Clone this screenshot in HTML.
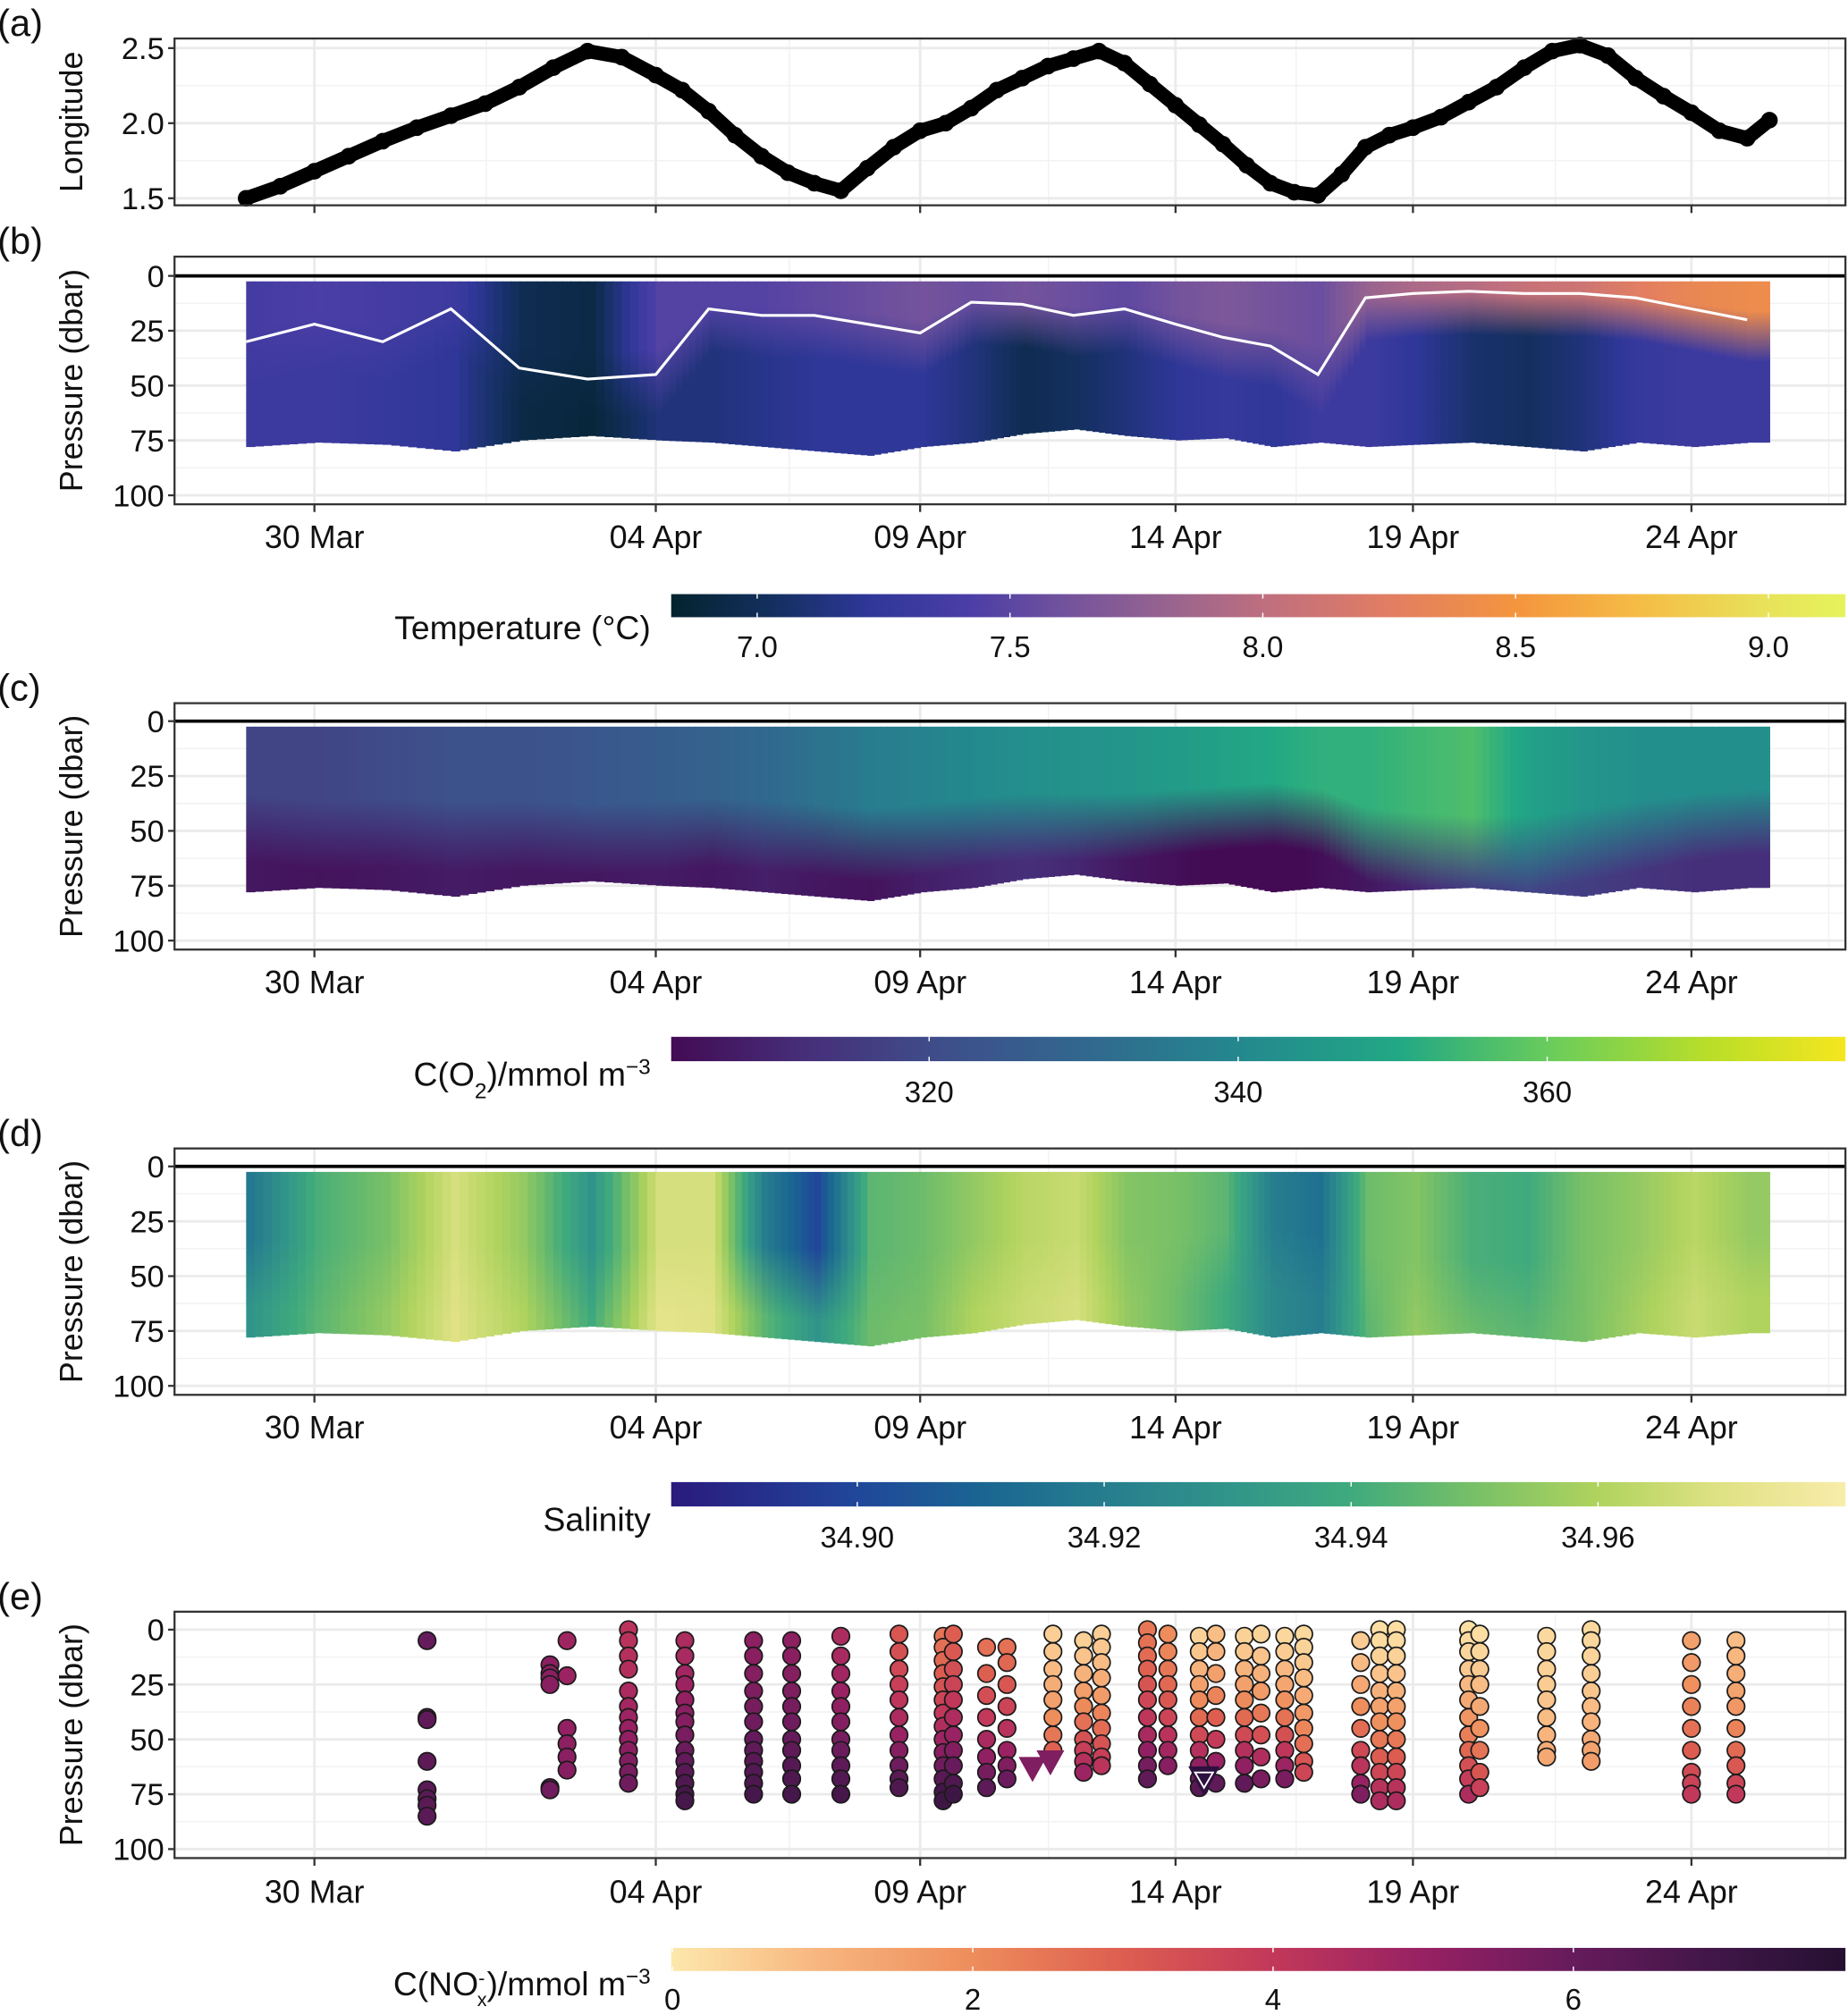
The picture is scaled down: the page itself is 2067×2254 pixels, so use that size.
<!DOCTYPE html>
<html><head><meta charset="utf-8"><title>Glider section plots</title>
<style>
html,body{margin:0;padding:0;background:#fff;}
svg{display:block;font-family:"Liberation Sans",Arial,sans-serif;}
</style></head>
<body>
<svg id="fig" xmlns="http://www.w3.org/2000/svg" width="2067" height="2254" viewBox="0 0 1440 1570.3" preserveAspectRatio="none"></svg>
<script>
// ---------- data ----------
const tickDays = [0, 5, 10, 15, 20, 25];
const tickLabels = ["30 Mar", "04 Apr", "09 Apr", "14 Apr", "19 Apr", "24 Apr"];
const lonDays = [-1,-0.5,0,0.5,1,1.5,2,2.5,3,3.5,4,4.5,5,5.5,6,6.5,7,7.5,8,8.5,9,9.5,10,10.5,11,11.5,12,12.5,13,13.5,14,14.5,15,15.5,16,16.5,17,17.5,18,18.5,19,19.5,20,20.5,21,21.5,22,22.5,23,23.5,24,24.5,25,25.5,26,26.4];
const lonVals = [1.50,1.58,1.68,1.78,1.88,1.97,2.05,2.13,2.24,2.37,2.48,2.44,2.32,2.22,2.08,1.92,1.78,1.67,1.6,1.55,1.7,1.84,1.95,2.0,2.1,2.22,2.3,2.38,2.43,2.48,2.4,2.26,2.12,1.99,1.86,1.72,1.6,1.54,1.52,1.66,1.84,1.92,1.97,2.04,2.14,2.24,2.37,2.48,2.52,2.45,2.3,2.18,2.07,1.95,1.9,2.02];
const colDays = [-1,0,1,2,3,4,5,6,7,8,9,10,11,12,13,14,15,16,17,18,19,20,21,22,23,24,25,26];
const tempTop = [7.35,7.4,7.35,7.3,6.95,6.9,7.45,7.45,7.45,7.5,7.55,7.6,7.55,7.6,7.55,7.5,7.6,7.65,7.6,7.55,7.8,7.9,7.95,8.05,8.1,8.25,8.35,8.4];
const tempDeep = [7.3,7.3,7.25,7.2,6.9,6.85,7.1,7.1,7.15,7.2,7.2,7.2,7.1,6.95,7.0,7.1,7.2,7.25,7.2,7.3,7.3,7.2,7.05,7.0,7.1,7.25,7.3,7.3];
const mld = [30,22,30,15,42,47,45,15,18,18,22,26,12,13,18,15,22,28,32,45,10,8,7,8,8,10,15,20];
const bottomP = [78,76,77,80,75,73,75,76,78,80,82,78,76,72,70,73,75,74,78,76,78,77,76,78,80,76,78,76];
const o2Top = [318,318,320,322,322,324,326,328,330,333,336,338,340,342,343,344,346,348,350,352,352,354,356,348,344,342,342,342];
const o2Deep = [306,305,306,307,306,306,307,306,308,306,305,308,310,312,310,306,304,302,301,304,306,310,316,318,316,314,312,312];
const o2Cline = [45,50,48,50,50,52,50,48,50,52,55,52,48,45,45,45,42,40,38,42,55,58,60,60,55,50,45,42];
const salTop = [34.918,34.942,34.95,34.968,34.955,34.93,34.968,34.968,34.92,34.9,34.945,34.948,34.955,34.962,34.965,34.952,34.95,34.945,34.92,34.915,34.948,34.952,34.942,34.94,34.95,34.955,34.962,34.955];
const salDeep = [34.93,34.945,34.955,34.97,34.96,34.94,34.972,34.97,34.945,34.93,34.948,34.95,34.96,34.965,34.968,34.955,34.948,34.94,34.925,34.92,34.945,34.955,34.948,34.945,34.95,34.958,34.965,34.96];
// NOx profiles
const profDay = [1.65,3.45,3.7,4.6,5.55,6.85,7.57,8.5,9.6,10.45,10.65,11.3,11.7,12.6,13.2,13.55,14.45,14.85,15.5,15.85,16.45,16.8,17.3,17.7,18.9,19.3,19.65,21.0,21.2,22.4,23.2,25.0,25.8];
const profP = [[5,40,41,60,73,77,80,85],[16,20,22,25,72,73],[5,21,45,52,58,64],[0,5,12,18,28,35,40,45,50,55,60,65,70],[5,12,20,25,32,38,42,48,55,60,65,70,75,78],[5,12,20,28,35,42,50,55,60,65,70,75],[5,12,20,28,35,42,50,55,62,68,75],[3,12,20,28,35,42,50,55,62,68,75],[2,10,18,25,32,40,48,55,62,68,72],[3,8,14,20,26,32,38,44,50,56,62,68,74,78],[2,10,18,25,32,40,48,55,62,70,75],[8,20,30,40,50,58,65,72],[8,15,25,35,45,55,62,68],[2,10,18,25,32,40,48,55],[5,12,20,28,35,42,50,55,60,65],[2,8,15,22,30,38,45,52,58,62],[0,6,12,18,25,32,40,48,55,62,68],[2,10,18,25,32,40,48,55,62],[3,10,18,25,32,40,48,55,62,68,72],[2,10,20,30,40,50,60,70],[3,10,18,25,32,40,48,55,62,70],[2,12,20,28,38,48,58,68],[3,10,18,25,32,40,48,55,62,68],[2,8,15,22,30,38,45,52,60,65],[5,15,25,35,45,55,62,70,75],[0,5,12,20,28,35,42,50,58,65,72,78],[0,5,12,20,28,35,42,50,58,65,72,78],[0,5,10,18,25,32,40,48,55,62,68,75],[2,10,18,25,35,45,55,65,72],[3,10,18,25,32,40,48,55,58],[0,5,12,20,28,35,42,50,55,60],[5,15,25,35,45,55,65,70,75],[5,12,20,28,35,45,55,62,70,75]];
const profNTop = [6,5.2,4.8,4.2,4.5,5.2,5.2,4.5,3.2,2.5,3,2.5,2.5,0.5,0.4,0.5,2.5,2,0.4,0.8,0.4,0.4,0.3,0.3,0.5,0.2,0.2,0.2,0.2,0.3,0.3,1.5,0.8];
const profNBot = [6.3,5.8,5.5,6,6.8,6.8,6.8,6.8,6.8,7,7,6.5,6.5,4.5,6,5.5,6.8,6.5,6.8,6.8,6.8,6.5,6.5,4.5,5.5,4.5,4.5,4.5,4,1.8,2.2,4,4];
const triDay = [12.2,12.55];
const triP = [63,60];
const triN = [5.5,5.5];
const openTriDay = [15.6];
const openTriP = [68];

// ---------- helpers ----------
const NS = "http://www.w3.org/2000/svg";
const svg = document.getElementById("fig");
function mk(tag, attrs, parent) {
  const e = document.createElementNS(NS, tag);
  for (const k in attrs) e.setAttribute(k, attrs[k]);
  (parent || svg).appendChild(e);
  return e;
}
const tickX = [245, 511, 717, 916, 1101, 1318];
function dx(d) {
  let i = 0;
  if (d <= tickDays[0]) i = 0;
  else if (d >= tickDays[4]) i = 4;
  else { while (d > tickDays[i + 1]) i++; }
  return tickX[i] + (d - tickDays[i]) * (tickX[i + 1] - tickX[i]) / (tickDays[i + 1] - tickDays[i]);
}
function hex2rgb(h) { return [parseInt(h.substr(1,2),16),parseInt(h.substr(3,2),16),parseInt(h.substr(5,2),16)]; }
function colorScale(stops) {
  return function (v) {
    if (v <= stops[0][0]) return stops[0][1];
    if (v >= stops[stops.length-1][0]) return stops[stops.length-1][1];
    let i = 0; while (v > stops[i+1][0]) i++;
    const t = (v - stops[i][0]) / (stops[i+1][0] - stops[i][0]);
    const a = hex2rgb(stops[i][1]), b = hex2rgb(stops[i+1][1]);
    return "rgb(" + a.map((c, k) => Math.round(c + (b[k]-c)*t)).join(",") + ")";
  };
}
const tempStops = [[6.8,"#04232e"],[7.0,"#132f5e"],[7.2,"#2f3798"],[7.4,"#4b3ea6"],[7.6,"#74539c"],[7.8,"#98648f"],[8.0,"#c06f7e"],[8.25,"#e27e62"],[8.5,"#f4953e"],[8.75,"#f5bd45"],[9.0,"#e8e25a"],[9.16,"#e6f35c"]];
const o2Stops = [[303,"#430b54"],[312,"#462f7a"],[320,"#3f4c8a"],[330,"#31688e"],[340,"#23898e"],[350,"#22a884"],[360,"#6ccd5a"],[370,"#bade28"],[378.6,"#f5e61f"]];
const salStops = [[34.885,"#2a1a7e"],[34.9,"#20479a"],[34.91,"#1a6592"],[34.92,"#267d8e"],[34.93,"#31948a"],[34.94,"#3faa7d"],[34.95,"#78c067"],[34.96,"#b0d35e"],[34.97,"#e0e285"],[34.98,"#f8ecaa"]];
const noxStops = [[0,"#fde8ac"],[1,"#f7b57e"],[2,"#ee8d5c"],[3,"#dd5e50"],[4,"#c2385a"],[5,"#972163"],[6,"#661b5c"],[7,"#3e1646"],[7.81,"#251031"]];
const tempC = colorScale(tempStops), o2C = colorScale(o2Stops), salC = colorScale(salStops), noxC = colorScale(noxStops);

const X0 = 136, X1 = 1438;
const minorX = [379, 615, 817, 1010, 1212, 1425];
let gid = 0;

function panelFrame(name, letter, top, bot, yTicks, yTickLabels, yMinor, yfun, ytitle, showX, xLabelY) {
  const g = mk("g", {});
  
  
  const bg = mk("rect", {x: X0, y: top, width: X1 - X0, height: bot - top, fill: "#fff"}, g);
  
  
  yMinor.forEach(v => {
    const l = mk("line", {x1: X0, x2: X1, y1: yfun(v), y2: yfun(v), stroke: "#f2f2f2", "stroke-width": 1}, g);
    
    
  });
  minorX.forEach(x => {
    const l = mk("line", {x1: x, x2: x, y1: top, y2: bot, stroke: "#f2f2f2", "stroke-width": 1}, g);
    
    
  });
  yTicks.forEach(v => {
    const l = mk("line", {x1: X0, x2: X1, y1: yfun(v), y2: yfun(v), stroke: "#ebebeb", "stroke-width": 2}, g);
    
    
  });
  tickDays.forEach(d => {
    const l = mk("line", {x1: dx(d), x2: dx(d), y1: top, y2: bot, stroke: "#ebebeb", "stroke-width": 2}, g);
    
    
  });
  const dataG = mk("g", {}, g);
  
  
  const over = mk("g", {}, g);
  
  
  const border = mk("rect", {x: X0, y: top, width: X1 - X0, height: bot - top, fill: "none", stroke: "#333", "stroke-width": 1.6}, over);
  
  
  yTicks.forEach((v, i) => {
    const t = mk("line", {x1: X0 - 5, x2: X0, y1: yfun(v), y2: yfun(v), stroke: "#333", "stroke-width": 1.6}, over);
    
    
    const tx = mk("text", {x: X0 - 8, y: yfun(v) + 8.5, "text-anchor": "end", "font-size": 24, fill: "#111"}, over);
    tx.textContent = yTickLabels[i];
    
    
  });
  tickDays.forEach((d, i) => {
    const t = mk("line", {x1: dx(d), x2: dx(d), y1: bot, y2: bot + 6, stroke: "#333", "stroke-width": 1.6}, over);
    
    
    if (showX) {
      const tx = mk("text", {x: dx(d), y: xLabelY, "text-anchor": "middle", "font-size": 25, fill: "#111"}, over);
      tx.textContent = tickLabels[i];
      
      
    }
  });
  const cy = (top + bot) / 2;
  const yt = mk("text", {x: 0, y: 0, transform: "translate(64," + cy + ") rotate(-90)", "text-anchor": "middle", "font-size": 25, fill: "#111"}, over);
  yt.textContent = ytitle;
  
  
  const lt = mk("text", {x: -2, y: top - 2, "font-size": 29, fill: "#111"}, over);
  lt.textContent = letter;
  
  
  return {dataG, over};
}

function colorbar(name, title, titleY, y0, y1, stops, ticks, tickPos, labelY, vmin, vmax) {
  const g = mk("g", {});
  
  
  const id = "cb" + (gid++);
  const defs = mk("defs", {}, g);
  const lg = mk("linearGradient", {id: id, x1: 0, x2: 1, y1: 0, y2: 0}, defs);
  stops.forEach(s => mk("stop", {offset: ((s[0] - vmin) / (vmax - vmin)).toFixed(4), "stop-color": s[1]}, lg));
  const r = mk("rect", {x: 523, y: y0, width: 1438 - 523, height: y1 - y0, fill: "url(#" + id + ")"}, g);
  
  
  ticks.forEach((t, i) => {
    const x = tickPos(t);
    const l1 = mk("line", {x1: x, x2: x, y1: y0, y2: y0 + 3.5, stroke: "#fff", "stroke-width": 1}, g);
    
    
    const l2 = mk("line", {x1: x, x2: x, y1: y1 - 3.5, y2: y1, stroke: "#fff", "stroke-width": 1}, g);
    
    
    const tx = mk("text", {x: x, y: labelY, "text-anchor": "middle", "font-size": 23, fill: "#111"}, g);
    tx.textContent = t;
    
    
  });
  const tt = mk("text", {x: 507, y: titleY, "text-anchor": "end", "font-size": 26, fill: "#111"}, g);
  tt.innerHTML = title;
  
  
}

// ---------- panel a ----------
const lonY = v => 96 - (v - 2) * 117;
const pa = panelFrame("panel-a-longitude", "(a)", 30, 160, [1.5, 2.0, 2.5], ["1.5", "2.0", "2.5"], [1.75, 2.25], lonY, "Longitude", false, 0);
const lonPath = lonDays.map((d, i) => (i ? "L" : "M") + dx(d).toFixed(1) + "," + lonY(lonVals[i]).toFixed(1)).join(" ");
const lonLine = mk("path", {d: lonPath, stroke: "#000", "stroke-width": 11, fill: "none", "stroke-linejoin": "round", "stroke-linecap": "round"}, pa.dataG);


lonDays.forEach((d, i) => {
  const c = mk("circle", {cx: dx(d), cy: lonY(lonVals[i]), r: 6.5, fill: "#000"}, pa.dataG);
  
  
});

// ---------- section heatmaps ----------
const pTicks = [0, 25, 50, 75, 100], pLabs = ["0", "25", "50", "75", "100"], pMinor = [12.5, 37.5, 62.5, 87.5];
const lastDay = 26.4;
const SUB = 8;
function at(arr, i, f) { const j = Math.min(arr.length - 1, i + 1); return arr[i] + (arr[j] - arr[i]) * f; }
function section(name, letter, top, bot, p0, p100, topArr, deepArr, cfn, clineArr, xLabelY) {
  const yf = p => p0 + p * (p100 - p0) / 100;
  const pf = panelFrame(name, letter, top, bot, pTicks, pLabs, pMinor, yf, "Pressure (dbar)", true, xLabelY);
  const defs = mk("defs", {}, pf.dataG);
  colDays.forEach((d, i) => {
    const dEnd = i < colDays.length - 1 ? colDays[i + 1] : lastDay;
    for (let k = 0; k < SUB; k++) {
      const f = k / SUB;
      const da = d + (dEnd - d) * f, db = d + (dEnd - d) * (k + 1) / SUB;
      const xa = dx(da), xb = dx(db);
      const id = "g" + (gid++);
      const lg = mk("linearGradient", {id: id, x1: 0, x2: 0, y1: 0, y2: 1}, defs);
      const depth = at(bottomP, i, f), cl = at(clineArr, i, f);
      const cTop = cfn(at(topArr, i, f)), cDeep = cfn(at(deepArr, i, f));
      const c1 = Math.min(0.95, cl / depth), c2 = Math.min(1, (cl + 18) / depth);
      mk("stop", {offset: 0, "stop-color": cTop}, lg);
      mk("stop", {offset: (c1 * 0.7).toFixed(3), "stop-color": cTop}, lg);
      mk("stop", {offset: c2.toFixed(3), "stop-color": cDeep}, lg);
      mk("stop", {offset: 1, "stop-color": cDeep}, lg);
      const r = mk("rect", {x: xa, y: yf(2.5), width: xb - xa + 0.6, height: yf(depth) - yf(2.5), fill: "url(#" + id + ")"}, pf.dataG);
      
      
    }
  });
  const hl = mk("line", {x1: X0, x2: X1, y1: yf(0), y2: yf(0), stroke: "#000", "stroke-width": 2.6}, pf.dataG);
  
  
  return {pf, yf};
}
const sb = section("panel-b-temperature", "(b)", 200, 393, 215, 386, tempTop, tempDeep, tempC, mld, 427);
const mldPath = colDays.map((d, i) => (i ? "L" : "M") + dx(d).toFixed(1) + "," + sb.yf(mld[i]).toFixed(1)).join(" ");
const mldLine = mk("path", {d: mldPath, stroke: "#fff", "stroke-width": 2.2, fill: "none"}, sb.pf.dataG);


section("panel-c-oxygen", "(c)", 548, 740, 562, 733, o2Top, o2Deep, o2C, o2Cline, 774);
section("panel-d-salinity", "(d)", 895, 1087, 909, 1080, salTop, salDeep, salC, o2Cline, 1121);

// ---------- panel e ----------
const ye = p => 1270 + p * 1.71;
const pe = panelFrame("panel-e-nitrate", "(e)", 1256, 1448, pTicks, pLabs, pMinor, ye, "Pressure (dbar)", true, 1483);
profDay.forEach((d, i) => {
  profP[i].forEach(p => {
    const f = Math.pow(Math.min(1, p / 75), 1.6);
    const n = profNTop[i] + (profNBot[i] - profNTop[i]) * f;
    const c = mk("circle", {cx: dx(d), cy: ye(p), r: 6.8, fill: noxC(n), stroke: "#1a1a1a", "stroke-width": 1.2}, pe.dataG);
    
    
  });
});
triDay.forEach((d, i) => {
  const x = dx(d), y = ye(triP[i]);
  const t = mk("polygon", {points: (x-10)+","+(y-8)+" "+(x+10)+","+(y-8)+" "+x+","+(y+10), fill: noxC(triN[i]), stroke: noxC(triN[i]), "stroke-width": 1}, pe.dataG);
  
  
});
openTriDay.forEach((d, i) => {
  const x = dx(d), y = ye(openTriP[i]);
  const t = mk("polygon", {points: (x-11)+","+(y-9)+" "+(x+11)+","+(y-9)+" "+x+","+(y+12), fill: "#2e1040", stroke: "#2e1040", "stroke-width": 1.5}, pe.dataG);
  
  
  const t2 = mk("polygon", {points: (x-7)+","+(y-5)+" "+(x+7)+","+(y-5)+" "+x+","+(y+7), fill: "none", stroke: "#fff", "stroke-width": 1.3}, pe.dataG);
  
  
});

// ---------- colorbars ----------
colorbar("temperature-colorbar", "Temperature (°C)", 498, 463, 481, tempStops, ["7.0","7.5","8.0","8.5","9.0"], t => 590 + (parseFloat(t) - 7) * 394, 512, 6.8, 9.16);
colorbar("oxygen-colorbar", "C(O<tspan baseline-shift='sub' font-size='17'>2</tspan>)/mmol m<tspan baseline-shift='super' font-size='17'>−3</tspan>", 846, 808, 827, o2Stops, ["320","340","360"], t => 724 + (parseFloat(t) - 320) * 12.04, 859, 303.3, 378.6);
colorbar("salinity-colorbar", "Salinity", 1193, 1155, 1174, salStops, ["34.90","34.92","34.94","34.96"], t => 668 + (parseFloat(t) - 34.9) * 9620, 1206, 34.885, 34.98);
colorbar("nitrate-colorbar", "C(NO<tspan baseline-shift='super' font-size='15'>-</tspan><tspan dx='-6' baseline-shift='sub' font-size='15'>x</tspan>)/mmol m<tspan baseline-shift='super' font-size='17'>−3</tspan>", 1555, 1518, 1536, noxStops, ["0","2","4","6"], t => 524 + parseFloat(t) * 117, 1566, 0, 7.81);
</script>
</body></html>
